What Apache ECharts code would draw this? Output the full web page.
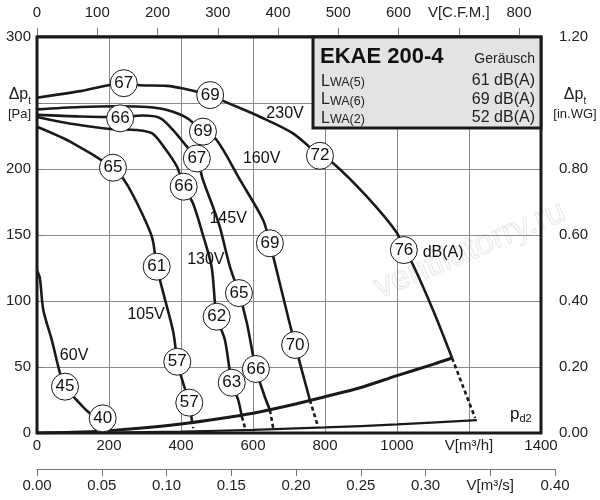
<!DOCTYPE html>
<html><head><meta charset="utf-8">
<script src="https://cdn.jsdelivr.net/npm/echarts@6/dist/echarts.min.js"></script>
<style>html,body{margin:0;padding:0;background:#fff}#c{width:600px;height:500px}</style>
</head><body><div id="c"></div>
<script>
// ---- data (V in m3/h, dp in Pa) ----
const curve230 = [[0,254],[120,259],[241,265],[286,263.5],[361,263],[406,261],[481,256],[522,251],[619,239.6],[711,227],[786,210],[822,204.5],[917,178.8],[1000,151.5],[1019,138.6],[1042,128.8],[1100,93.2],[1153,56.8]];
const dash230 = [[1153,56.8],[1217,11.4]];
const curve160 = [[0,245.2],[120,247],[230,247.5],[306,247],[361,244.7],[417,238.6],[461,228.3],[499,222],[564,191.7],[628,161.4],[647,143.7],[682,105],[717,66.7],[758,25]];
const dash160 = [[758,25],[781,4.5]];
const curve145 = [[0,241],[120,239.8],[225,239.4],[294,240.5],[342,238.6],[378,229.5],[417,216.7],[444,208],[461,191.7],[489,171.2],[508,156],[536,125.8],[561,106],[583,83.3],[608,48.5],[633,27.3],[647,17.4]];
const dash145 = [[647,17.4],[656,3.8]];
const curve130 = [[0,239.4],[60,236],[119,233.3],[203,230.3],[278,229.5],[320,227],[352,216.9],[389,201.7],[407.5,186.6],[433,174.2],[461,150],[485,126],[499,88.1],[522,70.5],[541,38.1],[559,25],[569,12.3]];
const dash130 = [[569,12.3],[578,3.8]];
const curve105 = [[0,232],[92,220.7],[211,201],[236,194.2],[269,179],[319,148.7],[332.5,126],[356,100.8],[379,75.8],[390,54],[406,37.7],[423,23],[430,9.8]];
const dash105 = [[430,9.8],[434,3.6]];
const curve60 = [[0,123],[8,117.2],[17.5,93.2],[41,70.5],[64,45.2],[78,35.1],[110,25],[147,14.9],[182.5,11.1]];
const systemCurve = [[0,0],[100,0.5],[200,1.8],[300,3.9],[400,6.8],[500,10.6],[600,15],[700,20.8],[800,27.5],[900,34.5],[1000,43.5],[1100,52],[1153,56.8]];
const pd2Curve = [[0,0],[200,0.3],[400,1.1],[600,2.4],[800,4.2],[1000,6.5],[1222,9.8]];
// noise markers dB(A): [V, dp, text]
const noiseMarks = [
  [241,265,'67'],[481,256,'69'],[786,210,'72'],[1019,138.6,'76'],
  [461,228.3,'69'],[647,143.7,'69'],[717,66.7,'70'],
  [231,238.4,'66'],[444,208,'67'],[561,106,'65'],[608,48.5,'66'],
  [407.5,186.6,'66'],[499,88.1,'62'],[541,38.1,'63'],
  [211,201,'65'],[332.5,126,'61'],[389.7,54,'57'],[423,23,'57'],
  [77.8,35.1,'45'],[182.5,11.1,'40']
];
const curveLabels = [[689,242,'230V'],[624,208,'160V'],[531,162.6,'145V'],[469,131.6,'130V'],[303,89.4,'105V'],[103,59,'60V'],[1128,137,'dB(A)']];
const pd2Label = [[1344,14.4,'{p|p}{s|d2}']];
// axes
const xM3h = {min:0,max:1400,step:200,unitAt:1200,unit:'V[m³/h]'};
const xCfm = {min:0,max:800,step:100,unitAt:700,unit:'V[C.F.M.]'};
const xM3s = {min:0,max:0.40,step:0.05,unitAt:0.35,unit:'V[m³/s]'};
const yPa = {min:0,max:300,step:50};
const yInWG = {min:0,max:1.2,step:0.2};
const boxTitle = 'EKAE 200-4';
const boxRows = [['(5)','61 dB(A)'],['(6)','69 dB(A)'],['(2)','52 dB(A)']];

const FONT = 'Liberation Sans, Arial, Helvetica, sans-serif';
const INK = '#1a1a1a';
const lbl = {fontFamily: FONT, fontSize: 15, color: '#222'};

function line(data, opt) {
  opt = opt || {};
  return {
    type: 'line', data: data, xAxisIndex: 0, yAxisIndex: 0,
    symbol: 'none', smooth: opt.smooth === undefined ? 0.3 : opt.smooth,
    z: 3, silent: true, animation: false,
    lineStyle: {color: INK, width: opt.width || 2.6, type: opt.dash ? [4, 3] : 'solid', cap: 'butt'}
  };
}

const subRich = {
  d: {fontFamily: FONT, fontSize: 16, color: '#222', fill: '#222', lineHeight: 22, verticalAlign: 'middle'},
  s: {fontFamily: FONT, fontSize: 10, color: '#222', fill: '#222', lineHeight: 10, verticalAlign: 'bottom'},
  b: {fontFamily: FONT, fontSize: 13, color: '#222', fill: '#222', lineHeight: 16}
};

const chart = echarts.init(document.getElementById('c'), null, {renderer: 'canvas'});
const option = {
  backgroundColor: '#fff',
  animation: false,
  grid: [
    {left: 37, right: 59, top: 37, bottom: 67, show: true, borderColor: INK, borderWidth: 3, outerBoundsMode: 'none', z: 4},
    {left: 37, right: 81, top: 25, height: 10, outerBoundsMode: 'none'},
    {left: 37, right: 45, top: 459, height: 10, outerBoundsMode: 'none'},
    {left: 37, right: 49, top: 37, bottom: 67, outerBoundsMode: 'none'}
  ],
  xAxis: [
    {gridIndex: 0, type: 'value', min: xM3h.min, max: xM3h.max, interval: xM3h.step,
      axisLine: {show: false}, axisTick: {show: false},
      splitLine: {show: true, lineStyle: {color: '#8a8a8a', width: 1}},
      axisLabel: Object.assign({margin: 5, formatter: v => v === xM3h.unitAt ? xM3h.unit : String(v)}, lbl)},
    {gridIndex: 1, type: 'value', position: 'top', min: xCfm.min, max: xCfm.max, interval: xCfm.step,
      axisLine: {show: true, lineStyle: {color: '#777', width: 1}},
      axisTick: {show: true, length: 7, lineStyle: {color: '#777'}},
      splitLine: {show: false},
      axisLabel: Object.assign({margin: 5, formatter: v => v === xCfm.unitAt ? xCfm.unit : String(v)}, lbl)},
    {gridIndex: 2, type: 'value', position: 'bottom', min: xM3s.min, max: xM3s.max, interval: xM3s.step,
      axisLine: {show: true, lineStyle: {color: '#777', width: 1}},
      axisTick: {show: true, length: 7, lineStyle: {color: '#777'}},
      splitLine: {show: false},
      axisLabel: Object.assign({margin: 9, formatter: v => Math.abs(v - xM3s.unitAt) < 1e-9 ? xM3s.unit : v.toFixed(2)}, lbl)},
    {gridIndex: 3, type: 'value', show: false, min: 0, max: 1}
  ],
  yAxis: [
    {gridIndex: 0, type: 'value', min: yPa.min, max: yPa.max, interval: yPa.step,
      axisLine: {show: false}, axisTick: {show: false},
      splitLine: {show: true, lineStyle: {color: '#8a8a8a', width: 1}},
      axisLabel: Object.assign({margin: 6, formatter: v => v === 250 ? '{d|Δp}{s|t}\n{b|[Pa]}' : String(v),
        rich: subRich}, lbl)},
    {gridIndex: 1, type: 'value', show: false, min: 0, max: 1},
    {gridIndex: 2, type: 'value', show: false, min: 0, max: 1},
    {gridIndex: 3, type: 'value', position: 'right', min: yInWG.min, max: yInWG.max, interval: yInWG.step,
      axisLine: {show: true, lineStyle: {color: '#777', width: 1}},
      axisTick: {show: true, length: 5, lineStyle: {color: '#777'}},
      splitLine: {show: false},
      axisLabel: Object.assign({margin: 8, formatter: v => Math.abs(v - 1.0) < 1e-9 ? '' : v.toFixed(2)}, lbl)}
  ],
  graphic: [
    {type: 'text', x: 470, y: 250, rotation: 0.40, z: 0, silent: true,
      style: {text: 'ventilatorry.ru', font: '34px ' + FONT, fill: 'rgba(0,0,0,0)', stroke: '#e6e6e6', lineWidth: 1, align: 'center', verticalAlign: 'middle'}},
    {type: 'rect', z: 100, shape: {x: 313, y: 37, width: 228, height: 91},
      style: {fill: '#e3e3e3', stroke: INK, lineWidth: 3}},
    {type: 'text', z: 101, x: 320, y: 57,
      style: {text: boxTitle, font: 'bold 22px ' + FONT, fill: '#111', align: 'left', verticalAlign: 'middle'}},
    {type: 'text', z: 101, x: 535, y: 59,
      style: {text: 'Geräusch', font: '14px ' + FONT, fill: '#222', align: 'right', verticalAlign: 'middle'}},
    ...boxRows.map((r, i) => ({type: 'text', z: 101, x: 321, y: 81 + i * 18.5,
      style: {text: '{a|L}{b|WA' + r[0] + '}', align: 'left', verticalAlign: 'middle',
        rich: {a: {fontFamily: FONT, fontSize: 16, fill: '#222', verticalAlign: 'bottom', lineHeight: 17},
               b: {fontFamily: FONT, fontSize: 12.5, fill: '#222', verticalAlign: 'bottom', lineHeight: 14}}}})),
    ...boxRows.map((r, i) => ({type: 'text', z: 101, x: 535, y: 81 + i * 18.5,
      style: {text: r[1], font: '16px ' + FONT, fill: '#222', align: 'right', verticalAlign: 'middle'}})),
    {type: 'text', z: 101, x: 575, y: 103,
      style: {text: '{d|Δp}{s|t}\n{b|[in.WG]}', align: 'center', verticalAlign: 'middle', rich: subRich}}
  ],
  series: [
    line(systemCurve, {width: 3}),
    line(pd2Curve, {width: 2.2}),
    line(curve230), line(dash230, {dash: true, smooth: false}),
    line(curve160), line(dash160, {dash: true, smooth: false}),
    line(curve145), line(dash145, {dash: true, smooth: false}),
    line(curve130), line(dash130, {dash: true, smooth: false}),
    line(curve105), line(dash105, {dash: true, smooth: false}),
    line(curve60),
    {type: 'scatter', xAxisIndex: 0, yAxisIndex: 0, z: 6, silent: true,
      data: noiseMarks, symbol: 'circle', symbolSize: 27,
      itemStyle: {color: '#fff', borderColor: INK, borderWidth: 1, opacity: 1},
      label: {show: true, position: 'inside', formatter: p => p.data[2], fontFamily: FONT, fontSize: 17, color: '#111'}},
    {type: 'scatter', xAxisIndex: 0, yAxisIndex: 0, z: 6, silent: true,
      data: curveLabels, symbol: 'circle', symbolSize: 1,
      itemStyle: {color: '#fff', opacity: 1},
      label: {show: true, position: 'inside', formatter: p => p.data[2], fontFamily: FONT, fontSize: 16, color: '#111', opacity: 1, textBorderWidth: 0}},
    {type: 'scatter', xAxisIndex: 0, yAxisIndex: 0, z: 6, silent: true,
      data: pd2Label, symbol: 'circle', symbolSize: 1,
      itemStyle: {color: '#fff', opacity: 1},
      label: {show: true, position: 'inside', formatter: p => p.data[2],
        rich: {
          p: {fontFamily: FONT, fontSize: 17, color: '#111', lineHeight: 20, verticalAlign: 'middle'},
          s: {fontFamily: FONT, fontSize: 11, color: '#111', lineHeight: 11, verticalAlign: 'bottom'}
        }}}
  ]
};
chart.setOption(option);
</script>
</body></html>
